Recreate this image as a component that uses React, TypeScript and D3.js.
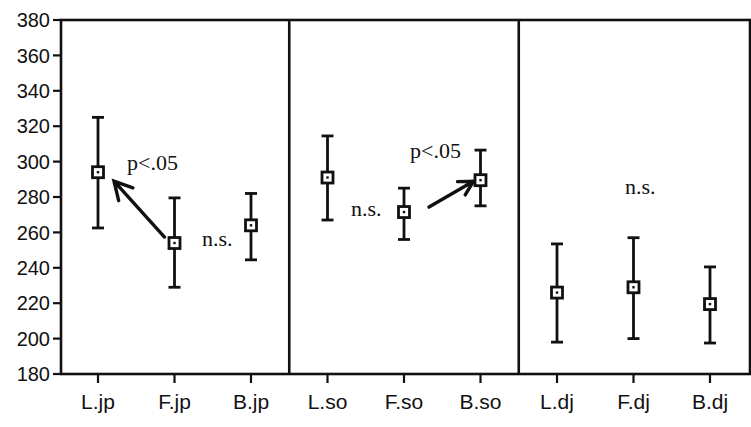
import * as d3 from 'd3';

const categories = ['L.jp', 'F.jp', 'B.jp', 'L.so', 'F.so', 'B.so', 'L.dj', 'F.dj', 'B.dj'];
const means = [294, 254, 264, 291, 271.5, 289.5, 226, 229, 219.5];
const upper = [325, 279.5, 282, 314.5, 285, 306.5, 253.5, 257, 240.5];
const lower = [262.5, 229, 244.5, 267, 256, 275, 198, 200, 197.5];
const yTicks = [180, 200, 220, 240, 260, 280, 300, 320, 340, 360, 380];

const width = 751;
const height = 427;
const margin = { top: 20, right: 1, bottom: 52, left: 61 };

// open arrow: shaft from (x1,y1) to tip (x2,y2), two barbs
const arrowPath = (x1: number, y1: number, x2: number, y2: number, len: number) => {
  const a = Math.atan2(y1 - y2, x1 - x2);
  const s = 0.5;
  const b1 = [x2 + len * Math.cos(a + s), y2 + len * Math.sin(a + s)];
  const b2 = [x2 + len * Math.cos(a - s), y2 + len * Math.sin(a - s)];
  return `M${x1},${y1}L${x2},${y2}M${b1[0]},${b1[1]}L${x2},${y2}L${b2[0]},${b2[1]}`;
};

const App = () => {
  const x = d3.scalePoint<string>()
    .domain(categories)
    .range([98, 710]);

  const y = d3.scaleLinear()
    .domain([180, 380])
    .range([height - margin.bottom - 1, margin.top]);

  const step = x.step();
  const dividers = [2, 5].map(i => (x(categories[i]) as number) + step / 2);
  const left = margin.left;
  const right = width - margin.right;
  const bottom = y(180);
  const top = y(380);

  const sans = '"Liberation Sans", Arial, sans-serif';
  const serif = '"Liberation Serif", "Times New Roman", serif';

  const pt = (i: number, v: number) => [x(categories[i]) as number, y(v)];
  const [ljx, ljy] = pt(0, means[0]);
  const [fjx, fjy] = pt(1, means[1]);
  const [fsx, fsy] = pt(4, means[4]);
  const [bsx, bsy] = pt(5, means[5]);

  return (
    <svg width={width} height={height} style={{ position: 'absolute', left: 0, top: 0, background: '#fff' }}>
      {/* frame and panel dividers */}
      <rect x={left} y={top} width={right - left} height={bottom - top} fill="none" stroke="#111" strokeWidth={2.6} />
      {dividers.map((d, i) => (
        <line key={i} x1={d} x2={d} y1={top} y2={bottom} stroke="#111" strokeWidth={2.6} />
      ))}

      {/* y axis */}
      {yTicks.map(t => (
        <g key={t}>
          <line x1={left - 8} x2={left} y1={y(t)} y2={y(t)} stroke="#111" strokeWidth={2.2} />
          <text x={left - 11} y={y(t)} dy="0.36em" textAnchor="end" fontFamily={sans} fontSize={20} fill="#111">{t}</text>
        </g>
      ))}

      {/* x axis */}
      {categories.map(c => (
        <g key={c}>
          <line x1={x(c)} x2={x(c)} y1={bottom} y2={bottom + 9} stroke="#111" strokeWidth={2.2} />
          <text x={x(c)} y={bottom + 35} textAnchor="middle" fontFamily={sans} fontSize={21} fill="#111">{c}</text>
        </g>
      ))}

      {/* error bars */}
      {categories.map((c, i) => {
        const cx = x(c) as number;
        return (
          <g key={c} stroke="#111" strokeWidth={2.8}>
            <line x1={cx} x2={cx} y1={y(upper[i])} y2={y(lower[i])} />
            <line x1={cx - 6} x2={cx + 6} y1={y(upper[i])} y2={y(upper[i])} />
            <line x1={cx - 6} x2={cx + 6} y1={y(lower[i])} y2={y(lower[i])} />
            <rect x={cx - 5.5} y={y(means[i]) - 5.5} width={11} height={11} fill="#fff" strokeWidth={2.8} />
            <rect x={cx - 1.2} y={y(means[i]) - 1.2} width={2.4} height={2.4} fill="#111" stroke="none" />
          </g>
        );
      })}

      {/* significance arrows */}
      <path d={arrowPath(fjx - 10, fjy - 6, ljx + 16, ljy + 9, 20)} fill="none" stroke="#111" strokeWidth={3.4} strokeLinecap="round" />
      <path d={arrowPath(fsx + 25, fsy - 5, bsx - 7, bsy + 1, 16)} fill="none" stroke="#111" strokeWidth={3.4} strokeLinecap="round" />

      {/* annotations */}
      <g fontFamily={serif} fontSize={22} fill="#111">
        <text x={127} y={170}>p&lt;.05</text>
        <text x={202} y={246}>n.s.</text>
        <text x={351} y={216}>n.s.</text>
        <text x={410} y={158}>p&lt;.05</text>
        <text x={625} y={194}>n.s.</text>
      </g>
    </svg>
  );
};

export default App;
